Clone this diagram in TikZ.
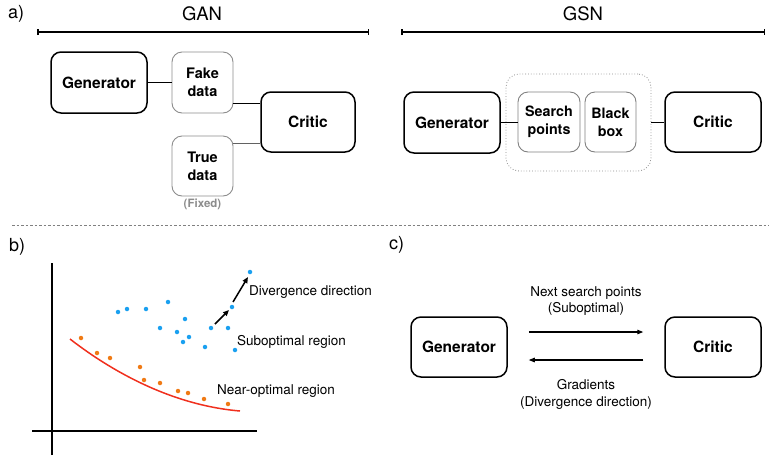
\documentclass[tikz,border=0pt]{standalone}
\usepackage{fontspec}
\setmainfont{TeX Gyre Heros}
\usetikzlibrary{arrows.meta,calc}
\definecolor{ptblue}{HTML}{1AA0F0}
\definecolor{ptorange}{HTML}{F07A14}
\definecolor{curvered}{HTML}{F0301E}
\definecolor{softgray}{HTML}{8C8C8C}
\tikzset{
  mainbox/.style={draw=black, line width=1.5pt, rounded corners=10pt, align=center,
    font=\fontsize{15.5}{18}\selectfont\bfseries, inner sep=0pt},
  databox/.style={draw=softgray, line width=0.9pt, rounded corners=10pt, align=center,
    font=\fontsize{14.5}{18}\selectfont\bfseries, inner sep=0pt},
  link/.style={line width=1pt, black},
  title/.style={font=\fontsize{18.5}{20}\selectfont, inner sep=0pt},
  panel/.style={font=\fontsize{18}{20}\selectfont, inner sep=0pt, anchor=west},
  span/.style={line width=1.5pt, {Bar[width=6pt]}-{Bar[width=6pt]}},
  note/.style={font=\fontsize{13.5}{16}\selectfont, inner sep=0pt, anchor=west},
  flowlabel/.style={font=\fontsize{13.5}{16.5}\selectfont, inner sep=0pt, align=center},
  flow/.style={line width=1.2pt, -{Triangle[length=6pt,width=4.5pt]}},
  pt/.style={circle, inner sep=0pt, minimum size=4.5pt},
}
\begin{document}
\begin{tikzpicture}[x=1pt, y=-1pt]
\useasboundingbox (0,0) rectangle (771,456);

% ---- a) GAN ----
\node[panel] (la) at (8,14) {a)};
\node[title] (tgan) at (202,14) {GAN};
\coordinate (ganl) at (37,32);
\coordinate (ganr) at (369,32);
\draw[span] (ganl) -- (ganr);

\node[mainbox, minimum width=96pt, minimum height=61pt] (ggen) at (99,82.5) {Generator};
\node[databox, minimum width=61pt, minimum height=61pt] (fake) at (202.5,82.5) {Fake\\data};
\node[databox, minimum width=61pt, minimum height=60pt] (true) at (202.5,166) {True\\data};
\node[mainbox, minimum width=94pt, minimum height=60pt] (gcrit) at (308,122) {Critic};
\node[font=\fontsize{11.5}{13}\selectfont\bfseries, text=softgray, inner sep=0pt] (fixed) at (202.5,204.5) {(Fixed)};

\draw[link] (ggen.east) -- (ggen.east -| fake.west);
\draw[link] ([yshift=-20.5pt]fake.east) coordinate (f1) -- (f1 -| gcrit.west);
\draw[link, softgray!70!black] ([yshift=23pt]true.east) coordinate (t1) -- (t1 -| gcrit.west);

% ---- a) GSN ----
\node[title] (tgsn) at (583,14) {GSN};
\coordinate (gsnl) at (401,32);
\coordinate (gsnr) at (765,32);
\draw[span] (gsnl) -- (gsnr);

\node[mainbox, minimum width=96pt, minimum height=61pt] (sgen) at (452,122.5) {Generator};
\node[draw=softgray, line width=0.8pt, dotted, rounded corners=13pt,
      minimum width=145pt, minimum height=97pt, inner sep=0pt] (group) at (578.5,122.5) {};
\node[databox, draw=gray, minimum width=62pt, minimum height=60pt, font=\fontsize{14.3}{18}\selectfont\bfseries] (search) at (549,122) {Search\\points};
\node[databox, draw=gray, minimum width=51pt, minimum height=60pt, font=\fontsize{14.3}{18}\selectfont\bfseries] (bbox) at (610.5,122) {Black\\box};
\node[mainbox, minimum width=96pt, minimum height=60pt] (scrit) at (713,122) {Critic};

\draw[link] (sgen.east) -- (sgen.east -| search.west);
\draw[link] (group.east) -- (group.east -| scrit.west);

% ---- separator ----
\coordinate (sepl) at (12,225);
\coordinate (sepr) at (769,225);
\draw[gray, line width=1pt, dash pattern=on 2.5pt off 2pt] (sepl) -- (sepr);

% ---- b) ----
\node[panel] (lb) at (9,247) {b)};
\coordinate (yb) at (52,455);
\coordinate (yt) at (52,263);
\coordinate (xl) at (32,431);
\coordinate (xr) at (257,431);
\draw[line width=1.3pt] (yb) -- (yt);
\draw[line width=1.3pt] (xl) -- (xr);

\coordinate (c0) at (70,339);
\coordinate (c3) at (240,411);
\draw[curvered, line width=1.5pt] (c0) .. controls (110,370) and (170,405) .. (c3);

\foreach \x/\y [count=\i] in {81/338, 97/353, 110/358, 140/367, 144/380, 160/383,
    178/391, 188/393, 204/399, 228/404}
  \node[pt, fill=ptorange] (o\i) at (\x,\y) {};

\foreach \x/\y [count=\i] in {118/312, 127/309, 146/309, 168/302, 185/319, 160/328,
    177/332, 189/337, 183/342, 205/347, 211/328, 228/328, 235/350, 232/307, 250/272}
  \node[pt, fill=ptblue] (b\i) at (\x,\y) {};

\draw[line width=1.5pt, -{Triangle[length=6pt,width=5pt]}] ([shift={(4,-4)}]b11.center) -- ([shift={(-3,3)}]b14.center);
\draw[line width=1.5pt, -{Triangle[length=6pt,width=5pt]}] ([shift={(1,-5)}]b14.center) -- ([shift={(-2,5)}]b15.center);

\node[note] (ndiv) at (249,292) {Divergence direction};
\node[note] (nsub) at (237,342) {Suboptimal region};
\node[note] (nnear) at (217,391) {Near-optimal region};

% ---- c) ----
\node[panel] (lc) at (389,245) {c)};
\node[mainbox, minimum width=96pt, minimum height=60pt] (cgen) at (459,347) {Generator};
\node[mainbox, minimum width=96pt, minimum height=60pt] (ccrit) at (713,347) {Critic};

\draw[flow] ([xshift=21pt, yshift=15pt]cgen.east) -- ([xshift=-21pt, yshift=15pt]ccrit.west);
\draw[flow] ([xshift=-21pt, yshift=-13pt]ccrit.west) -- ([xshift=21pt, yshift=-13pt]cgen.east);

\node[flowlabel] (lnext) at (586,301) {Next search points\\(Suboptimal)};
\node[flowlabel] (lgrad) at (586,394.5) {Gradients\\(Divergence direction)};
\end{tikzpicture}
\end{document}
